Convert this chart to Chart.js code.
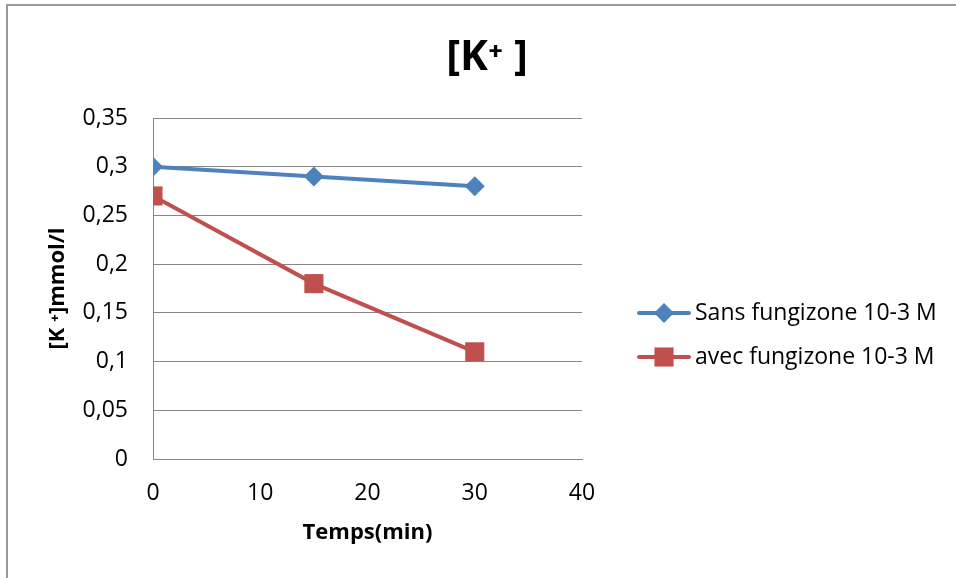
<!DOCTYPE html>
<html>
<head>
<meta charset="utf-8">
<script src="https://cdn.jsdelivr.net/npm/chart.js@4.4.1/dist/chart.umd.min.js"></script>
<style>
html,body{margin:0;padding:0;background:#fff;overflow:hidden}
#wrap{position:relative;width:956px;height:578px}
#cadre{position:absolute;left:6px;top:4px;width:1000px;height:1000px;border:2px solid #999;box-sizing:border-box}
#wrap canvas{position:absolute;left:0;top:0}
</style>
</head>
<body>
<div id="wrap"><div id="cadre"></div><canvas id="graphK"></canvas></div>
<script>
// temps de prélèvement (min) et concentration en K+ (mmol/l)
const temps=[0,15,30];
const sansFungizone=[0.3,0.29,0.28];
const avecFungizone=[0.27,0.18,0.11];
const nomsSeries=['Sans fungizone 10-3 M','avec fungizone 10-3 M'];
const titre='[K\u207A ]';
const couleurs=['#4F81BD','#C0504D'];
const police='"Open Sans", "Noto Sans", sans-serif';

const pts=v=>temps.map((t,i)=>({x:t,y:v[i]}));

// titre centré sur toute la zone du graphique (légende comprise)
const titreExcel={id:'titreExcel',afterDraw(chart){
  const ctx=chart.ctx;ctx.save();
  ctx.fillStyle='#000';ctx.font='bold 42px '+police;ctx.textAlign='center';ctx.textBaseline='middle';
  ctx.fillText(titre,487,58);
  ctx.restore();
}};

// légende dessinée à la main : trait + marqueur comme dans Excel
const legendeExcel={id:'legendeExcel',afterDraw(chart){
  const ctx=chart.ctx;ctx.save();
  chart.data.datasets.forEach((ds,i)=>{
    const y=313+i*44;
    ctx.strokeStyle=ds.borderColor;ctx.lineWidth=ds.borderWidth;ctx.lineCap='round';
    ctx.beginPath();ctx.moveTo(639,y);ctx.lineTo(689,y);ctx.stroke();
    ctx.fillStyle=ds.backgroundColor;
    const r=ds.pointRadius,cx=664;
    ctx.beginPath();
    if(ds.pointStyle==='rectRot'){ctx.moveTo(cx,y-r);ctx.lineTo(cx+r,y);ctx.lineTo(cx,y+r);ctx.lineTo(cx-r,y);ctx.closePath();}
    else{const h=r*Math.SQRT1_2;ctx.rect(cx-h,y-h,2*h,2*h);}
    ctx.fill();
    ctx.fillStyle='#000';ctx.font='23px '+police;ctx.textBaseline='middle';ctx.textAlign='left';
    ctx.fillText(ds.label,695,y);
  });
  ctx.restore();
}};

new Chart(document.getElementById('graphK'),{
  type:'line',
  data:{datasets:[
    {label:nomsSeries[0],data:pts(sansFungizone),borderColor:couleurs[0],backgroundColor:couleurs[0],borderWidth:4,pointStyle:'rectRot',pointRadius:10,pointBorderWidth:0,pointHoverRadius:10},
    {label:nomsSeries[1],data:pts(avecFungizone),borderColor:couleurs[1],backgroundColor:couleurs[1],borderWidth:4,pointStyle:'rect',pointRadius:13.5,pointBorderWidth:0,pointHoverRadius:13.5}
  ]},
  options:{
    responsive:true,maintainAspectRatio:false,animation:false,
    layout:{padding:{left:18,right:374,top:118,bottom:0}},
    plugins:{legend:{display:false},tooltip:{enabled:false},title:{display:false}},
    scales:{
      x:{type:'linear',min:0,max:40,
        afterFit(s){s.height=119;},
        ticks:{stepSize:10,color:'#000',font:{family:police,size:23},padding:21,maxRotation:0},
        grid:{display:false,drawTicks:false},
        border:{display:true,color:'#868686',width:1},
        title:{display:true,text:'Temps(min)',color:'#000',font:{family:police,size:22,weight:'bold'},padding:{top:0,bottom:32}}
      },
      y:{min:0,max:0.35,
        afterFit(s){s.width=135;},
        ticks:{stepSize:0.05,color:'#000',font:{family:police,size:23},padding:25,
          callback:v=>String(+v.toFixed(2)).replace('.',',')},
        grid:{color:'#868686',lineWidth:1,drawTicks:false},
        border:{display:true,color:'#868686',width:1},
        title:{display:true,text:'[K \u207A]mmol/l',color:'#000',font:{family:police,size:22,weight:'bold'},padding:{top:27,bottom:0}}
      }
    }
  },
  plugins:[titreExcel,legendeExcel]
});
</script>
</body>
</html>
